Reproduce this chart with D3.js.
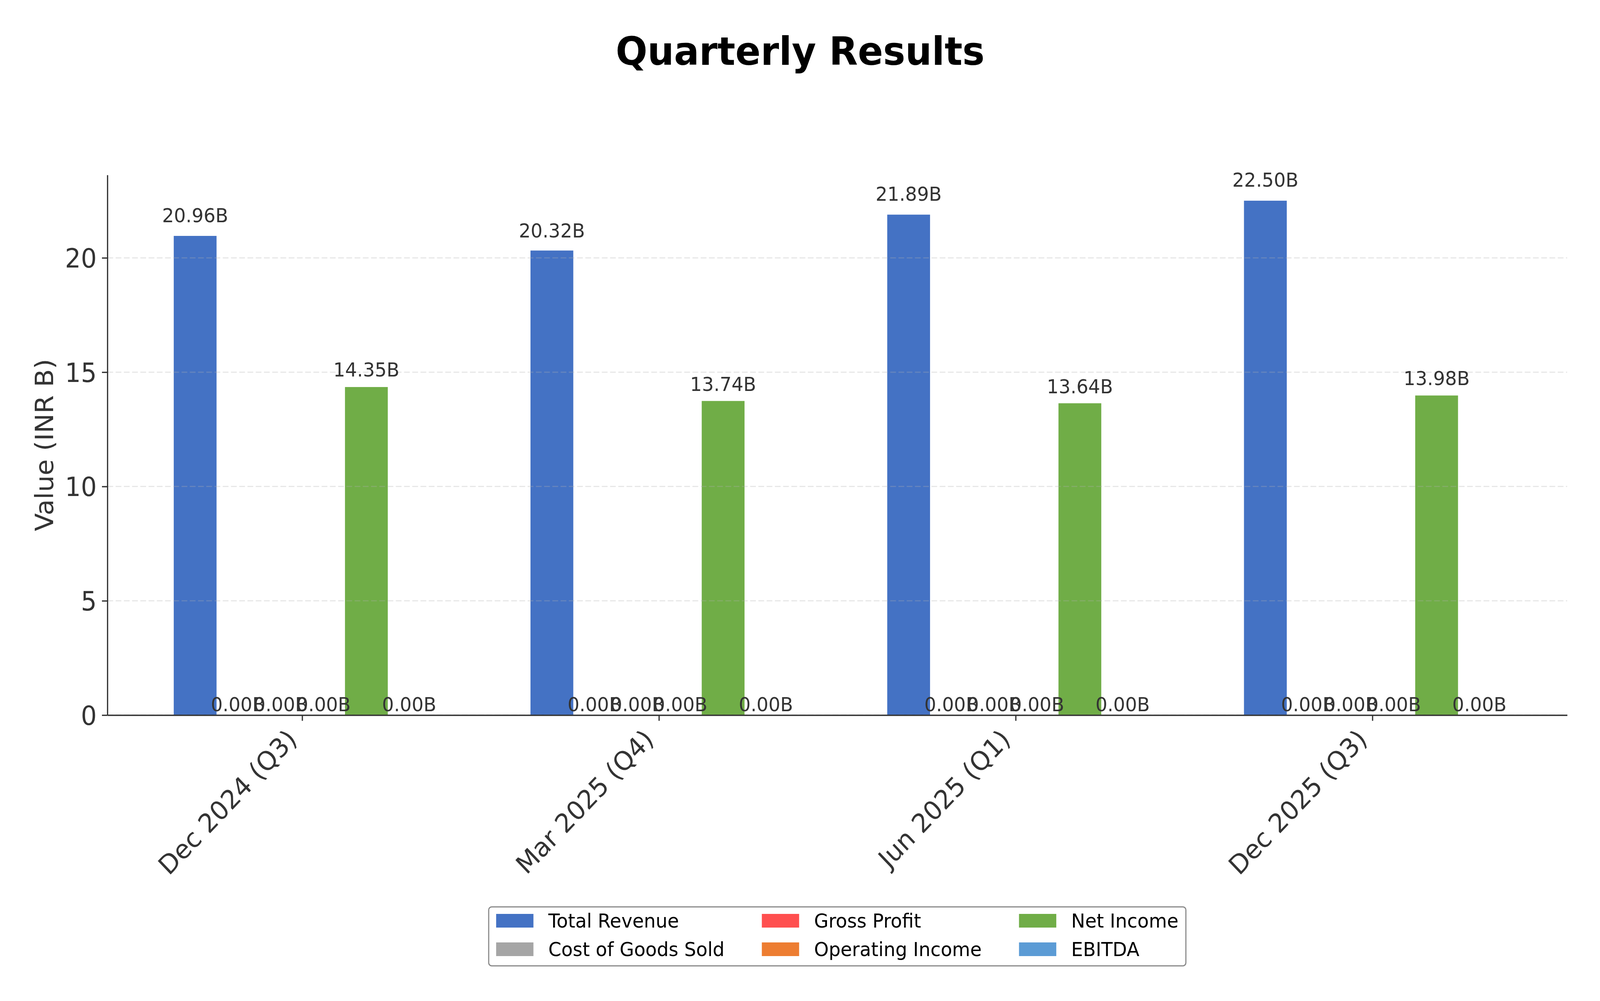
<!DOCTYPE html>
<html>
<head>
<meta charset="utf-8">
<script src="https://cdn.jsdelivr.net/npm/d3@7"></script>
<style>
  html, body { margin: 0; padding: 0; background: #fff; overflow: hidden; }
  svg { display: block; width: 100vw; height: 100vh; font-family: "DejaVu Sans", sans-serif; }
</style>
</head>
<body>
<svg id="chart" viewBox="0 0 4291 2563" preserveAspectRatio="none"></svg>
<script>
const quarters = ['Dec 2024 (Q3)', 'Mar 2025 (Q4)', 'Jun 2025 (Q1)', 'Dec 2025 (Q3)'];
const seriesNames = ['Total Revenue', 'Cost of Goods Sold', 'Gross Profit', 'Operating Income', 'Net Income', 'EBITDA'];
const seriesColors = ['#4472c4', '#a5a5a5', '#ff4f4f', '#ed7d31', '#70ad47', '#5b9bd5'];
const totalRevenue = [20.96, 20.32, 21.89, 22.50];
const costOfGoods = [0, 0, 0, 0];
const grossProfit = [0, 0, 0, 0];
const operatingIncome = [0, 0, 0, 0];
const netIncome = [14.35, 13.74, 13.64, 13.98];
const ebitda = [0, 0, 0, 0];
const yTicks = [0, 5, 10, 15, 20];

const series = [totalRevenue, costOfGoods, grossProfit, operatingIncome, netIncome, ebitda];
const barWidth = 0.12;

const svg = d3.select('#chart');
const plot = {left: 288, right: 4203, top: 448, bottom: 1831};

const x = d3.scaleLinear()
  .domain([-0.546, quarters.length - 1 + 0.546])
  .range([plot.left, plot.right]);
const yMax = d3.max(series.flat()) * 1.05;
const y = d3.scaleLinear()
  .domain([0, yMax])
  .range([plot.bottom, plot.top]);

// title
svg.append('text')
  .attr('x', 2146)
  .attr('y', 166)
  .attr('text-anchor', 'middle')
  .attr('font-size', 100)
  .attr('font-weight', 'bold')
  .attr('fill', '#000')
  .text('Quarterly Results');

// bars
const bars = [];
series.forEach((vals, si) => {
  vals.forEach((v, qi) => {
    bars.push({si, qi, v, pos: qi + (si - (series.length - 1) / 2) * barWidth});
  });
});

svg.append('g')
  .selectAll('rect')
  .data(bars)
  .join('rect')
  .attr('x', d => x(d.pos - barWidth / 2))
  .attr('width', d => x(d.pos + barWidth / 2) - x(d.pos - barWidth / 2))
  .attr('y', d => y(d.v))
  .attr('height', d => y(0) - y(d.v))
  .attr('fill', d => seriesColors[d.si]);

// grid (drawn over bars, faint)
svg.append('g')
  .selectAll('line')
  .data(yTicks)
  .join('line')
  .attr('x1', plot.left)
  .attr('x2', plot.right)
  .attr('y1', d => y(d))
  .attr('y2', d => y(d))
  .attr('stroke', '#b0b0b0')
  .attr('stroke-opacity', 0.3)
  .attr('stroke-width', 3)
  .attr('stroke-dasharray', '15.4,6.7');

// value labels
svg.append('g')
  .selectAll('text')
  .data(bars)
  .join('text')
  .attr('x', d => x(d.pos))
  .attr('y', d => y(d.v * 1.02) - 10)
  .attr('text-anchor', 'middle')
  .attr('font-size', 50)
  .attr('fill', '#333')
  .text(d => d.v.toFixed(2) + 'B');

// axes
const yAxis = svg.append('g')
  .attr('transform', `translate(${plot.left},0)`)
  .call(d3.axisLeft(y).tickValues(yTicks).tickSize(14.6).tickPadding(14).tickSizeOuter(0));
yAxis.select('.domain').attr('stroke', '#333').attr('stroke-width', 3.3);
yAxis.selectAll('.tick line').attr('stroke', '#333').attr('stroke-width', 3.3);
yAxis.selectAll('.tick text')
  .attr('font-size', 67)
  .attr('font-family', '"DejaVu Sans", sans-serif')
  .attr('fill', '#333')
  .attr('dy', '0.36em');

const xAxis = svg.append('g')
  .attr('transform', `translate(0,${plot.bottom})`)
  .call(d3.axisBottom(x).tickValues(d3.range(quarters.length)).tickFormat(i => quarters[i]).tickSize(14.6).tickSizeOuter(0));
xAxis.select('.domain').attr('stroke', '#333').attr('stroke-width', 3.3);
xAxis.selectAll('.tick line').attr('stroke', '#333').attr('stroke-width', 3.3);
xAxis.selectAll('.tick text')
  .attr('font-size', 67)
  .attr('font-family', '"DejaVu Sans", sans-serif')
  .attr('fill', '#333')
  .attr('text-anchor', 'end')
  .attr('x', 0)
  .attr('y', 0)
  .attr('dy', 0)
  .attr('transform', 'translate(-11,66) rotate(-45)');

// y label
svg.append('text')
  .attr('transform', `translate(142,${(plot.top + plot.bottom) / 2}) rotate(-90)`)
  .attr('text-anchor', 'middle')
  .attr('font-size', 67)
  .attr('fill', '#333')
  .text('Value (INR B)');

// legend, 3 columns filled column by column
const fs = 50;
const handleLen = 2 * fs, handleH = 35, textPad = 0.8 * fs, colGap = 2 * fs, pad = 0.4 * fs;
const nCols = 3, nRows = 2;
const legend = svg.append('g');
const box = legend.append('rect');
const entries = legend.selectAll('g.entry')
  .data(seriesNames.map((name, i) => ({name, i, col: Math.floor(i / nRows), row: i % nRows})))
  .join('g')
  .attr('class', 'entry');
entries.append('rect')
  .attr('width', handleLen)
  .attr('height', handleH)
  .attr('fill', d => seriesColors[d.i]);
entries.append('text')
  .attr('font-size', fs)
  .attr('fill', '#000')
  .attr('x', handleLen + textPad)
  .attr('y', handleH)
  .text(d => d.name);

const colWidths = d3.range(nCols).map(c => d3.max(entries.filter(d => d.col === c).select('text').nodes(), n => n.getComputedTextLength()));
const colX = [];
let cx = pad;
for (let c = 0; c < nCols; c++) {
  colX.push(cx);
  cx += handleLen + textPad + colWidths[c] + colGap;
}
const boxW = cx - colGap + pad;
const boxH = 151;
const boxLeft = (plot.left + plot.right) / 2 - boxW / 2;
const boxTop = 2322;
legend.attr('transform', `translate(${boxLeft},${boxTop})`);
box.attr('width', boxW)
  .attr('height', boxH)
  .attr('rx', 8)
  .attr('fill', '#fff')
  .attr('stroke', '#888')
  .attr('stroke-width', 3);
entries.attr('transform', d => `translate(${colX[d.col]},${53 - handleH + d.row * 73})`);
</script>
</body>
</html>
